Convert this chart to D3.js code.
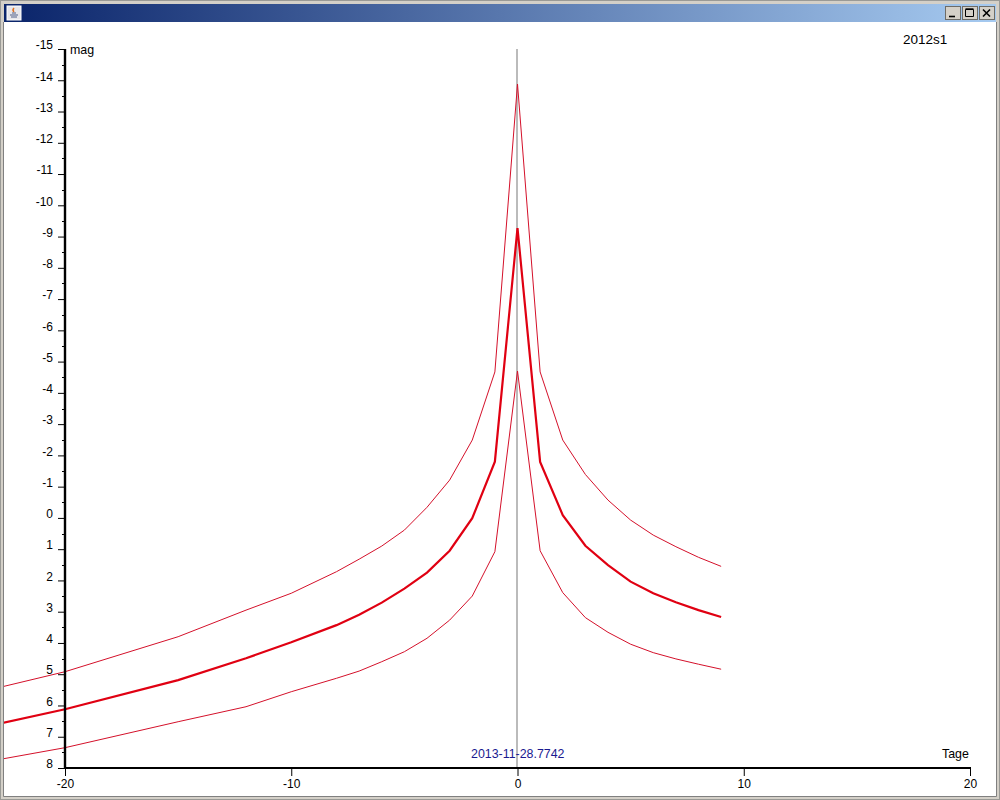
<!DOCTYPE html>
<html><head><meta charset="utf-8"><script src="https://cdn.jsdelivr.net/npm/d3@7"></script>
<style>html,body{margin:0;padding:0;background:#fff}svg{display:block}text{font-family:"Liberation Sans",Arial,sans-serif;font-size:12.4px;fill:#000}</style></head>
<body><svg id="c" width="1000" height="800"></svg>
<script>
const days=[-23,-20,-15,-12,-10,-8,-7,-6,-5,-4,-3,-2,-1,0,1,2,3,4,5,6,7,8,9];
const magMain=[6.6,6.12,5.19,4.49,3.98,3.43,3.1,2.71,2.26,1.75,1.05,0.01,-1.8,-9.27,-1.79,-0.09,0.89,1.51,2.04,2.41,2.7,2.95,3.17];
const magUpper=[5.44,4.92,3.8,2.95,2.41,1.72,1.32,0.9,0.39,-0.34,-1.21,-2.49,-4.67,-13.88,-4.67,-2.49,-1.39,-0.57,0.07,0.55,0.92,1.26,1.55];
const magLower=[7.74,7.35,6.52,6.04,5.56,5.13,4.9,4.6,4.28,3.85,3.27,2.5,1.08,-4.7,1.05,2.39,3.19,3.66,4.04,4.31,4.51,4.68,4.84];
const xTicks=[-20,-10,0,10,20];
const yTicks=d3.range(-15,9);
const yMinor=d3.range(-14.5,8,1);
const texts={name:"2012s1",date:"2013-11-28.7742",xLabel:"Tage",yLabel:"mag"};

const svg=d3.select("#c");
const x=d3.scaleLinear().domain([-20,20]).range([65,970]);
const y=d3.scaleLinear().domain([-15,8]).range([49,768]);
const hy=d3.format("d");
const fmt=d=>hy(d).replace("\u2212","-");

// window frame
const defs=svg.append("defs");
const g=defs.append("linearGradient").attr("id","tb");
g.append("stop").attr("offset","0").attr("stop-color","#0a246a");
g.append("stop").attr("offset","1").attr("stop-color","#a6caf0");
defs.append("clipPath").attr("id","plot").append("rect").attr("x",4).attr("y",23).attr("width",992).attr("height",773);
svg.append("rect").attr("width",1000).attr("height",800).attr("fill","#d4d0c8");
svg.append("rect").attr("x",0.5).attr("y",0.5).attr("width",999).attr("height",799).attr("fill","none").attr("stroke","#9a9a96");
svg.append("rect").attr("x",4).attr("y",4).attr("width",992).attr("height",18).attr("fill","url(#tb)");
svg.append("rect").attr("x",4).attr("y",22).attr("width",992).attr("height",774).attr("fill","#fff");
svg.append("path").attr("d","M3.5 22V796.5H996.5V22").attr("fill","none").attr("stroke","#808080");
// icon
svg.append("rect").attr("x",7).attr("y",6).attr("width",14).attr("height",14).attr("fill","#e6e6ea").attr("stroke","#fff");
svg.append("path").attr("d","M10 15h8M11 17h6M12 13h4").attr("stroke","#50608a").attr("fill","none");
svg.append("path").attr("d","M14 8q-2 2 0 4").attr("stroke","#e07020").attr("fill","none").attr("stroke-width",1.5);
// buttons
[945,962,979].forEach((bx,i)=>{
  const b=svg.append("g").attr("transform",`translate(${bx},6)`);
  b.append("rect").attr("width",15).attr("height",13).attr("x",.5).attr("y",.5).attr("fill","#d4d0c8").attr("stroke","#6e6c66");
  b.append("path").attr("d",["M4 10.5h6","M3.5 3.5h8v7h-8zM3.5 2.8h8","M4 3.5l7 7M11 3.5l-7 7"][i]).attr("stroke","#000").attr("fill","none").attr("stroke-width",i==1?1:1.6);
});

const plot=svg.append("g").attr("clip-path","url(#plot)");
// zero line
plot.append("line").attr("x1",x(0)-.5).attr("x2",x(0)-.5).attr("y1",y(-15)).attr("y2",y(8)).attr("stroke","#bbbbbb").attr("stroke-width",2);

// axes
const yAxis=d3.axisLeft(y).tickValues(yTicks).tickFormat(fmt).tickSize(7).tickPadding(5);
const yg=svg.append("g").attr("transform","translate(65,0)").call(yAxis);
const xAxis=d3.axisBottom(x).tickValues(xTicks).tickFormat(fmt).tickSize(8).tickPadding(3);
const xg=svg.append("g").attr("transform","translate(0,768)").call(xAxis);
[yg,xg].forEach(a=>{a.selectAll(".domain").attr("stroke","none");a.selectAll("line").attr("stroke","#000");a.selectAll("text").style("font-size","12px").style("font-family",'"Liberation Sans",Arial,sans-serif').attr("fill","#000")});
yg.selectAll(".tick text").attr("dy","-0.02em");
svg.append("g").selectAll("line").data(yMinor).join("line").attr("x1",62).attr("x2",65).attr("y1",d=>Math.round(y(d))+.5).attr("y2",d=>Math.round(y(d))+.5).attr("stroke","#000");
svg.append("line").attr("x1",65).attr("x2",65).attr("y1",49).attr("y2",769).attr("stroke","#000").attr("stroke-width",2.4);
svg.append("line").attr("x1",64).attr("x2",971).attr("y1",768).attr("y2",768).attr("stroke","#000").attr("stroke-width",2);

// curves
const line=d3.line().x((d,i)=>x(days[i])).y(d=>y(d));
plot.append("path").attr("d",line(magUpper)).attr("fill","none").attr("stroke","#d4102a").attr("stroke-width",1);
plot.append("path").attr("d",line(magLower)).attr("fill","none").attr("stroke","#d4102a").attr("stroke-width",1);
plot.append("path").attr("d",line(magMain)).attr("fill","none").attr("stroke","#e00012").attr("stroke-width",2.2);

svg.append("text").attr("x",70).attr("y",54).text(texts.yLabel);
svg.append("text").attr("x",903).attr("y",44).style("font-size","13.5px").text(texts.name);
svg.append("text").attr("x",471).attr("y",758).style("fill","#1a1a90").text(texts.date);
svg.append("text").attr("x",942).attr("y",758).text(texts.xLabel);
</script></body></html>
